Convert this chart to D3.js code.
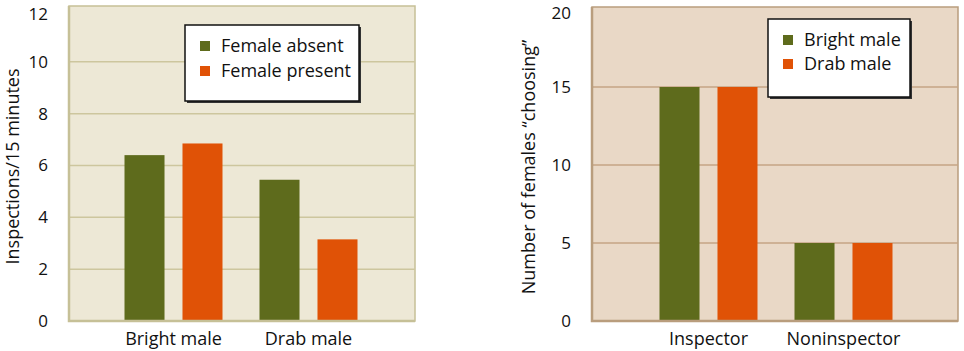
<!DOCTYPE html>
<html>
<head>
<meta charset="utf-8">
<script src="https://cdn.jsdelivr.net/npm/d3@7/dist/d3.min.js"></script>
<style>
body { margin: 0; background: #fff; }
svg text { font-family: "Open Sans", sans-serif; fill: #111; }
</style>
</head>
<body>
<div class="chart"></div>
<script>
(function(){

//data, left panel
var leftGroups = ["Bright male", "Drab male"];
var leftSeries = ["Female absent", "Female present"];
var femaleAbsent = [6.4, 5.45];
var femalePresent = [6.85, 3.15];
var leftTicks = [0, 2, 4, 6, 8, 10, 12];

//data, right panel
var rightGroups = ["Inspector", "Noninspector"];
var rightSeries = ["Bright male", "Drab male"];
var brightMale = [15, 5];
var drabMale = [15, 5];
var rightTicks = [0, 5, 10, 15, 20];

var colors = ["#5e6b1c", "#e05206"];

var width = 964,
    height = 351;

var svg = d3.select(".chart")
    .append("svg")
    .attr("width", width)
    .attr("height", height);

//left panel
drawPanel({
    x0: 69, x1: 415, top: 6, y0: 10, y1: 321,
    bandRange: [106, 376],
    groups: leftGroups,
    series: leftSeries,
    values: [femaleAbsent, femalePresent],
    ticks: leftTicks,
    max: 12,
    bg: "#ede8d6",
    grid: "#cdc69e",
    border: "#c6c097",
    title: "Inspections/15 minutes",
    titleX: 13,
    legend: {x: 185, y: 25, w: 174, h: 76, rowY: [46, 71]}
});

//right panel
drawPanel({
    x0: 592, x1: 958, top: 7, y0: 9, y1: 321,
    bandRange: [641, 911],
    groups: rightGroups,
    series: rightSeries,
    values: [brightMale, drabMale],
    ticks: rightTicks,
    max: 20,
    bg: "#e9d8c6",
    grid: "#c4a585",
    border: "#b99d7d",
    title: "Number of females \u201cchoosing\u201d",
    titleX: 529,
    legend: {x: 768, y: 19, w: 142, h: 78, rowY: [40, 64]}
});

function drawPanel(o){
    var g = svg.append("g");

    var y = d3.scaleLinear()
        .domain([0, o.max])
        .range([o.y1, o.y0]);

    var x = d3.scaleBand()
        .domain(o.groups)
        .range(o.bandRange)
        .padding(0);

    var xs = d3.scaleBand()
        .domain(o.series)
        .range([18.5, 116.5])
        .paddingInner(0.31);

    //background
    g.append("rect")
        .attr("x", o.x0)
        .attr("y", o.top)
        .attr("width", o.x1 - o.x0)
        .attr("height", o.y1 - o.top)
        .attr("fill", o.bg)
        .attr("stroke", o.border)
        .attr("stroke-width", 1.5);

    //grid lines
    g.selectAll(".grid")
        .data(o.ticks.filter(function(t){ return t > 0 && t < o.max; }))
        .enter()
        .append("line")
        .attr("x1", o.x0)
        .attr("x2", o.x1)
        .attr("y1", function(d){ return y(d); })
        .attr("y2", function(d){ return y(d); })
        .attr("stroke", o.grid)
        .attr("stroke-width", 1.5);

    //bars
    o.series.forEach(function(s, i){
        g.selectAll(".bar" + i)
            .data(o.values[i])
            .enter()
            .append("rect")
            .attr("x", function(d, j){ return x(o.groups[j]) + xs(s); })
            .attr("y", function(d){ return y(d); })
            .attr("width", xs.bandwidth())
            .attr("height", function(d){ return y(0) - y(d); })
            .attr("fill", colors[i]);
    });

    //heavier left and bottom edges
    g.append("path")
        .attr("d", "M" + o.x0 + "," + o.top + "V" + o.y1 + "H" + o.x1)
        .attr("fill", "none")
        .attr("stroke", o.border)
        .attr("stroke-width", 2.5);

    //y axis
    var yAxis = g.append("g")
        .attr("transform", "translate(" + o.x0 + ",0)")
        .call(d3.axisLeft(y).tickValues(o.ticks).tickSize(0).tickPadding(21));
    yAxis.select(".domain").remove();
    yAxis.selectAll("text")
        .style("font-size", "17px")
        .attr("fill", "#111")
        .attr("dy", function(d){ return d === o.max ? "0.55em" : "0.32em"; }); // keep top label inside

    //x axis
    var xAxis = g.append("g")
        .attr("transform", "translate(0," + o.y1 + ")")
        .call(d3.axisBottom(x).tickSize(0).tickPadding(11));
    xAxis.select(".domain").remove();
    xAxis.selectAll("text")
        .style("font-size", "18px")
        .attr("fill", "#111");

    //axis title
    g.append("text")
        .attr("transform", "translate(" + o.titleX + "," + ((o.top + o.y1) / 2 + 3) + ") rotate(-90)")
        .attr("text-anchor", "middle")
        .attr("dy", "0.35em")
        .style("font-size", "18px")
        .text(o.title);

    //legend
    var L = o.legend;
    g.append("rect")
        .attr("x", L.x + 2)
        .attr("y", L.y + 2)
        .attr("width", L.w)
        .attr("height", L.h)
        .attr("fill", "#333");
    g.append("rect")
        .attr("x", L.x)
        .attr("y", L.y)
        .attr("width", L.w)
        .attr("height", L.h)
        .attr("fill", "#fff")
        .attr("stroke", "#111")
        .attr("stroke-width", 1.5);

    var rows = g.selectAll(".legendRow")
        .data(o.series)
        .enter()
        .append("g")
        .attr("transform", function(d, i){ return "translate(" + (L.x + 15) + "," + L.rowY[i] + ")"; });
    rows.append("rect")
        .attr("x", 0)
        .attr("y", -5)
        .attr("width", 10)
        .attr("height", 10)
        .attr("fill", function(d, i){ return colors[i]; });
    rows.append("text")
        .attr("x", 21)
        .attr("dy", "0.35em")
        .style("font-size", "18px")
        .text(function(d){ return d; });
}

})();
</script>
</body>
</html>
